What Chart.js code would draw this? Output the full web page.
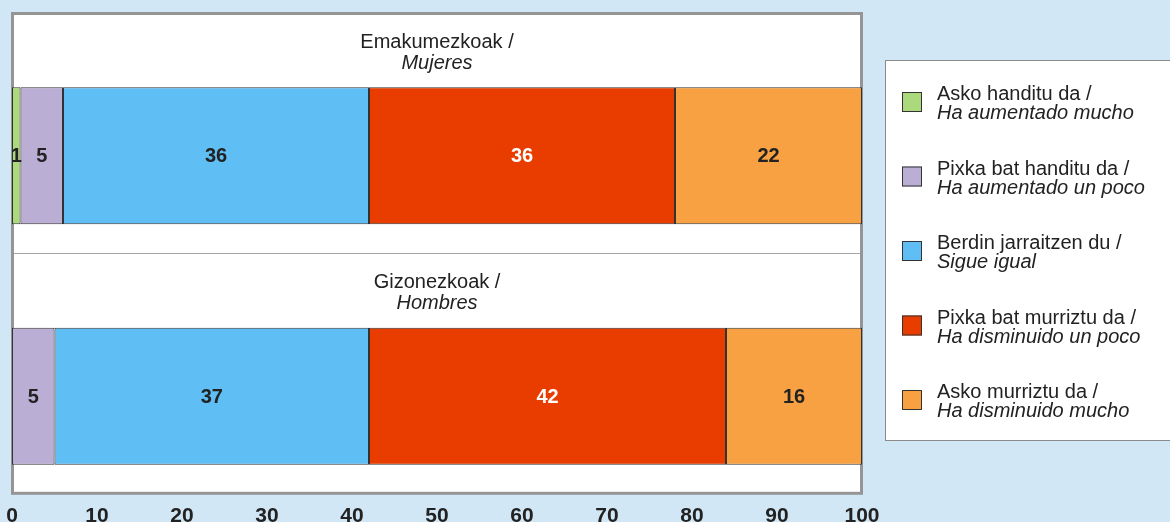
<!DOCTYPE html>
<html>
<head>
<meta charset="utf-8">
<script src="https://cdn.jsdelivr.net/npm/chart.js@4.4.1/dist/chart.umd.min.js"></script>
<style>
  html, body { margin: 0; padding: 0; background: #d1e7f5; }
  #wrap { width: 1170px; height: 522px; position: relative; }
</style>
</head>
<body>
<div id="wrap"><canvas id="chart" width="1170" height="522"></canvas></div>
<script>
// groups (Basque / Spanish)
const groupsEu = ['Emakumezkoak /', 'Gizonezkoak /'];
const groupsEs = ['Mujeres', 'Hombres'];

// answer categories
const seriesEu = ['Asko handitu da /', 'Pixka bat handitu da /', 'Berdin jarraitzen du /', 'Pixka bat murriztu da /', 'Asko murriztu da /'];
const seriesEs = ['Ha aumentado mucho', 'Ha aumentado un poco', 'Sigue igual', 'Ha disminuido un poco', 'Ha disminuido mucho'];
const colors = ['#acd97c', '#bbaed4', '#5fbef3', '#e93d00', '#f8a142'];
const labelColors = ['#222', '#222', '#222', '#fff', '#222'];

// percentages per group [Emakumezkoak, Gizonezkoak]
const askoHanditu = [1, 0];
const pixkaHanditu = [5, 5];
const berdin = [36, 37];
const pixkaMurriztu = [36, 42];
const askoMurriztu = [22, 16];
const values = [askoHanditu, pixkaHanditu, berdin, pixkaMurriztu, askoMurriztu];

const xTicks = [0, 10, 20, 30, 40, 50, 60, 70, 80, 90, 100];

const barPos = 0.594; // where the bar sits inside each group band

const textFont = "'Liberation Sans', Arial, sans-serif";

const datasets = values.map((vals, i) => ({
    label: seriesEu[i] + ' ' + seriesEs[i],
    data: vals.map((v, g) => ({ x: v, y: g + barPos })),
    backgroundColor: colors[i],
    borderColor: '#333',
    borderWidth: 1,
    borderSkipped: false,
    barPercentage: 0.57,
    categoryPercentage: 1
}));

// white plot area with thick grey frame
const framePlugin = {
    id: 'frame',
    beforeDatasetsDraw(chart) {
        const { ctx, chartArea: a } = chart;
        ctx.save();
        ctx.strokeStyle = '#959595';
        ctx.lineWidth = 3;
        ctx.strokeRect(a.left + 0.5, a.top + 0.5, a.width - 1, a.height - 1);
        ctx.restore();
    },
    beforeDraw(chart) {
        const { ctx, chartArea: a } = chart;
        ctx.save();
        ctx.fillStyle = '#fff';
        ctx.fillRect(a.left, a.top, a.width, a.height);
        ctx.restore();
    }
};

// group titles, segment values and the side legend
const textPlugin = {
    id: 'texts',
    afterDatasetsDraw(chart) {
        const { ctx, chartArea: a, scales } = chart;
        ctx.save();
        const cx = (a.left + a.right) / 2;
        ctx.textAlign = 'center';
        ctx.textBaseline = 'alphabetic';
        ctx.fillStyle = '#222';
        groupsEu.forEach((g, i) => {
            const top = scales.y.getPixelForValue(i);
            ctx.font = '20px ' + textFont;
            ctx.fillText(g, cx, top + 35);
            ctx.font = 'italic 20px ' + textFont;
            ctx.fillText(groupsEs[i], cx, top + 56);
        });

        // values inside the segments
        ctx.font = 'bold 20px ' + textFont;
        ctx.textBaseline = 'middle';
        chart.data.datasets.forEach((ds, i) => {
            const meta = chart.getDatasetMeta(i);
            meta.data.forEach((bar, j) => {
                const v = ds.data[j].x;
                if (!v) return;
                ctx.fillStyle = labelColors[i];
                ctx.fillText(String(v), (bar.x + bar.base) / 2, bar.y + 1);
            });
        });

        // legend box
        ctx.fillStyle = '#fff';
        ctx.fillRect(885, 60, 300, 380);
        ctx.strokeStyle = '#8a8a8a';
        ctx.lineWidth = 1;
        ctx.strokeRect(885.5, 60.5, 300, 380);
        ctx.textAlign = 'left';
        ctx.textBaseline = 'alphabetic';
        seriesEu.forEach((s, i) => {
            const cy = 102 + i * 74.5;
            ctx.fillStyle = colors[i];
            ctx.fillRect(902, cy - 10, 20, 20);
            ctx.strokeStyle = '#333';
            ctx.strokeRect(902.5, cy - 9.5, 19, 19);
            ctx.fillStyle = '#222';
            ctx.font = '20px ' + textFont;
            ctx.fillText(s, 937, cy - 2);
            ctx.font = 'italic 20px ' + textFont;
            ctx.fillText(seriesEs[i], 937, cy + 17);
        });
        ctx.restore();
    }
};

new Chart(document.getElementById('chart'), {
    type: 'bar',
    data: { datasets },
    options: {
        indexAxis: 'y',
        responsive: false,
        animation: false,
        layout: { padding: { left: 12, right: 308, top: 13, bottom: -17 } },
        plugins: {
            legend: { display: false },
            tooltip: { enabled: false }
        },
        scales: {
            x: {
                type: 'linear',
                stacked: true,
                min: 0,
                max: 100,
                afterBuildTicks: (scale) => { scale.ticks = xTicks.map(v => ({ value: v })); },
                afterFit: (scale) => { scale.paddingLeft = 0; scale.paddingRight = 0; },
                grid: { display: false, drawTicks: false },
                border: { display: false },
                ticks: {
                    padding: 10,
                    color: '#222',
                    font: { family: textFont, weight: 'bold', size: 21 }
                }
            },
            y: {
                type: 'linear',
                stacked: true,
                reverse: true,
                offset: false,
                min: 0,
                max: 2,
                ticks: { display: false, stepSize: 1 },
                grid: {
                    offset: false,
                    drawTicks: false,
                    color: (c) => c.tick && c.tick.value === 1 ? '#a5a5a5' : 'rgba(0,0,0,0)'
                },
                border: { display: false }
            }
        }
    },
    plugins: [framePlugin, textPlugin]
});
</script>
</body>
</html>
